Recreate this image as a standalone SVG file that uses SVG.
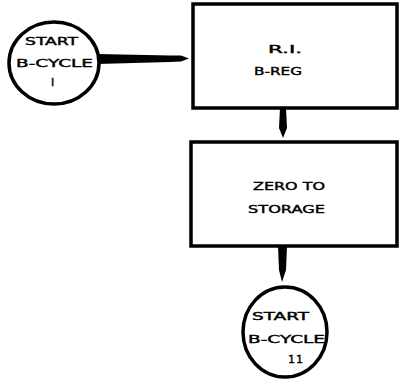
<svg xmlns="http://www.w3.org/2000/svg" width="399" height="383" viewBox="0 0 399 383">
<style>
.shape{fill:#fff;stroke:#000;stroke-width:3.5}
.t{font-family:"DejaVu Sans","Liberation Sans",sans-serif;font-size:11px;font-weight:normal;fill:#000;stroke:#000;stroke-width:0.4}
.c{fill:#000;stroke:none}
</style>
<rect width="399" height="383" fill="#fff"/>
<g id="connectors">
<polygon class="c" points="97,54 170,55.5 181,55.5 189,58.5 181,61.5 170,62 97,64"/>
<polygon class="c" points="280,108 286,108 287,128 283,138 279,128"/>
<polygon class="c" points="278,246 287,246 286,270 282,282 279,270"/>
</g>
<g id="start1">
<ellipse class="shape" cx="54" cy="63" rx="45" ry="41"/>
<text class="t" x="25" y="45" textLength="53" lengthAdjust="spacingAndGlyphs">START</text>
<text class="t" x="16" y="67" textLength="77" lengthAdjust="spacingAndGlyphs">B-CYCLE</text>
<text class="t" x="51" y="86">I</text>
</g>
<g id="rireg">
<rect class="shape" x="193" y="4" width="204" height="104"/>
<text class="t" x="268" y="53" textLength="34" lengthAdjust="spacingAndGlyphs">R.I.</text>
<text class="t" x="254" y="75" textLength="48" lengthAdjust="spacingAndGlyphs">B-REG</text>
</g>
<g id="zero">
<rect class="shape" x="191" y="142" width="206" height="104"/>
<text class="t" x="253" y="190" textLength="72" lengthAdjust="spacingAndGlyphs">ZERO TO</text>
<text class="t" x="248" y="213" textLength="77" lengthAdjust="spacingAndGlyphs">STORAGE</text>
</g>
<g id="start2">
<ellipse class="shape" cx="285" cy="332" rx="42" ry="45"/>
<text class="t" x="252" y="320" textLength="57" lengthAdjust="spacingAndGlyphs">START</text>
<text class="t" x="248" y="343" textLength="77" lengthAdjust="spacingAndGlyphs">B-CYCLE</text>
<text class="t" x="288" y="363" textLength="15" lengthAdjust="spacing">11</text>
</g>
</svg>
